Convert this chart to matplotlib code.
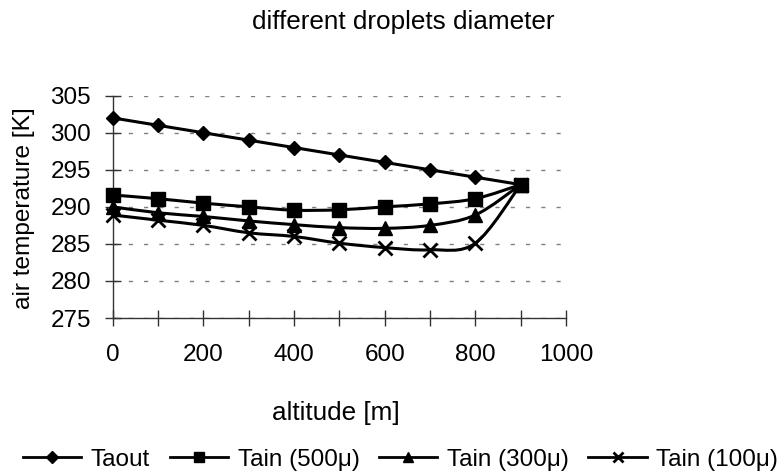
import matplotlib
matplotlib.use('Agg')
import matplotlib.pyplot as plt
from matplotlib.path import Path
from matplotlib.patches import PathPatch
from matplotlib.lines import Line2D
from matplotlib.ticker import MultipleLocator
import numpy as np

plt.rcParams['font.family'] = ['Liberation Sans', 'DejaVu Sans']

# valores
altitude = [0, 100, 200, 300, 400, 500, 600, 700, 800, 900]
taout = [302.0, 301.0, 300.0, 299.0, 298.0, 297.0, 296.0, 295.0, 294.0, 293.0]
tain_500 = [291.6, 291.1, 290.5, 290.0, 289.55, 289.6, 290.0, 290.4, 291.1, 293.0]
tain_300 = [290.0, 289.2, 288.7, 288.1, 287.6, 287.2, 287.1, 287.5, 288.9, 293.0]
tain_100 = [288.9, 288.2, 287.5, 286.5, 286.0, 285.1, 284.5, 284.2, 285.1, 293.0]

series_names = ['Taout', 'Tain (500\u03bc)', 'Tain (300\u03bc)', 'Tain (100\u03bc)']
series_values = [taout, tain_500, tain_300, tain_100]
markers = ['D', 's', '^', 'x']
msizes = [7.2, 9.5, 9.5, 9.5]

title = 'different droplets diameter'
xlabel = 'altitude [m]'
ylabel = 'air temperature [K]'


def curva_suave(x, y):
    # curva tipo Excel: bezier cubica que pasa por los puntos
    x = np.asarray(x, float)
    y = np.asarray(y, float)
    n = len(x)
    verts = [(x[0], y[0])]
    codes = [Path.MOVETO]
    for i in range(n - 1):
        i0 = max(i - 1, 0)
        i3 = min(i + 2, n - 1)
        c1 = (x[i] + (x[i + 1] - x[i0]) / 6.0, y[i] + (y[i + 1] - y[i0]) / 6.0)
        c2 = (x[i + 1] - (x[i3] - x[i]) / 6.0, y[i + 1] - (y[i3] - y[i]) / 6.0)
        verts += [c1, c2, (x[i + 1], y[i + 1])]
        codes += [Path.CURVE4] * 3
    return Path(verts, codes)


fig = plt.figure(figsize=(7.81, 4.76), dpi=100)
ax = fig.add_axes([0.1443, 0.3319, 0.5804, 0.4671])

for vals, m, ms in zip(series_values, markers, msizes):
    ax.add_patch(PathPatch(curva_suave(altitude, vals), fill=False,
                           edgecolor='black', lw=2.2, zorder=3, clip_on=False))
    ax.plot(altitude, vals, ls='none', marker=m, ms=ms, color='black',
            mew=2 if m == 'x' else 1, zorder=4, clip_on=False)

ax.set_xlim(0, 1000)
ax.set_ylim(275, 305)
ax.xaxis.set_major_locator(MultipleLocator(200))
ax.xaxis.set_minor_locator(MultipleLocator(100))
ax.yaxis.set_major_locator(MultipleLocator(5))

for s in ['top', 'right']:
    ax.spines[s].set_visible(False)
for s in ['left', 'bottom']:
    ax.spines[s].set_color('#333333')
    ax.spines[s].set_linewidth(1)

ax.tick_params(axis='both', which='both', direction='inout', length=11,
               width=1, color='#333333', labelsize=17.5)
ax.tick_params(axis='y', pad=10)
ax.tick_params(axis='x', pad=13)

ax.yaxis.grid(True, linestyle=(0, (3, 8)), color='gray', lw=1)
ax.set_axisbelow(True)

fig.text(0.516, 0.954, title, ha='center', va='center', fontsize=18.8)
fig.text(0.43, 0.132, xlabel, ha='center', va='center', fontsize=18.8)
fig.text(0.031, 0.563, ylabel, ha='center', va='center', rotation=90, fontsize=17.6)

handles = [Line2D([], [], color='black', lw=2, marker=m, ms=ms * 0.8,
                  mew=2 if m == 'x' else 1)
           for m, ms in zip(markers, msizes)]
fig.legend(handles, series_names, loc='center', bbox_to_anchor=(0.513, 0.034),
           ncol=4, frameon=False, fontsize=17.5, handlelength=2.4,
           handletextpad=0.4, columnspacing=0.8, borderpad=0, borderaxespad=0)

fig.savefig('out.png', dpi=100)
